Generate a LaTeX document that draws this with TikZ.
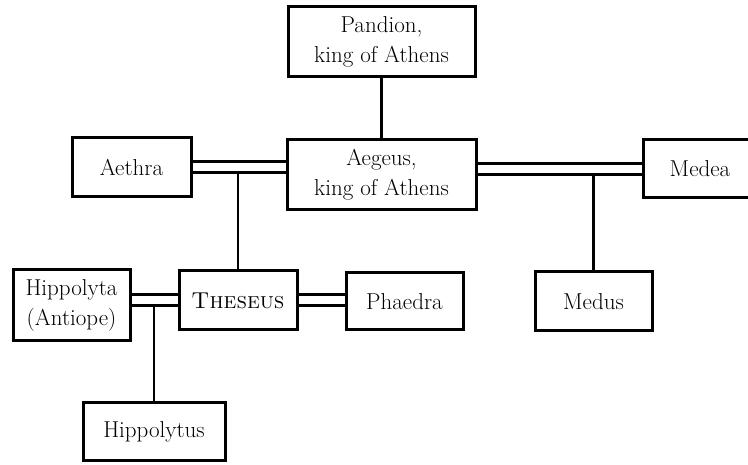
\documentclass[tikz,border=0pt]{standalone}
\begin{document}
\begin{tikzpicture}[x=1pt,y=-1pt,
  person/.style={draw, line width=3pt, fill=white, align=center, inner sep=0pt,
    font=\fontsize{23}{30}\selectfont},
  descent/.style={line width=2.8pt},
  marriage/.style={double, line width=3pt, double distance=8pt}]
  \clip (0,0) rectangle (748,465);

  % family members
  \node[person, minimum width=187, minimum height=70] (pandion) at (381.5,42) {Pandion,\\king of Athens};
  \node[person, minimum width=189, minimum height=70] (aegeus) at (381.5,175) {Aegeus,\\king of Athens};
  \node[person, minimum width=119, minimum height=59] (aethra) at (131.5,167.5) {Aethra};
  \node[person, minimum width=114, minimum height=58] (medea) at (700,169) {Medea};
  \node[person, minimum width=117, minimum height=71] (hippolyta) at (71.5,305.5) {Hippolyta\\(Antiope)};
  \node[person, minimum width=118, minimum height=59] (theseus) at (238,300.5) {\textsc{Theseus}};
  \node[person, minimum width=117, minimum height=57] (phaedra) at (404.5,301.5) {Phaedra};
  \node[person, minimum width=117, minimum height=59] (medus) at (593.5,301.5) {Medus};
  \node[person, minimum width=142, minimum height=57] (hippolytus) at (154,431.5) {Hippolytus};

  % parent to child
  \draw[descent] (pandion.south) -- (aegeus.north);

  % marriages
  \draw[marriage] (aethra.east) -- (aethra.east -| aegeus.west);
  \draw[marriage] (medea.west) -- (medea.west -| aegeus.east);
  \draw[marriage] (theseus.west) -- (theseus.west -| hippolyta.east);
  \draw[marriage] (theseus.east) -- (theseus.east -| phaedra.west);

  % children hanging from the marriage lines
  \draw[descent] ([yshift=-5.5pt]aethra.east -| theseus.north) -- (theseus.north);
  \draw[descent] ([yshift=-5.5pt]medea.west -| medus.north) -- (medus.north);
  \draw[descent] ([yshift=-5.5pt]theseus.west -| hippolytus.north) -- (hippolytus.north);
\end{tikzpicture}
\end{document}
